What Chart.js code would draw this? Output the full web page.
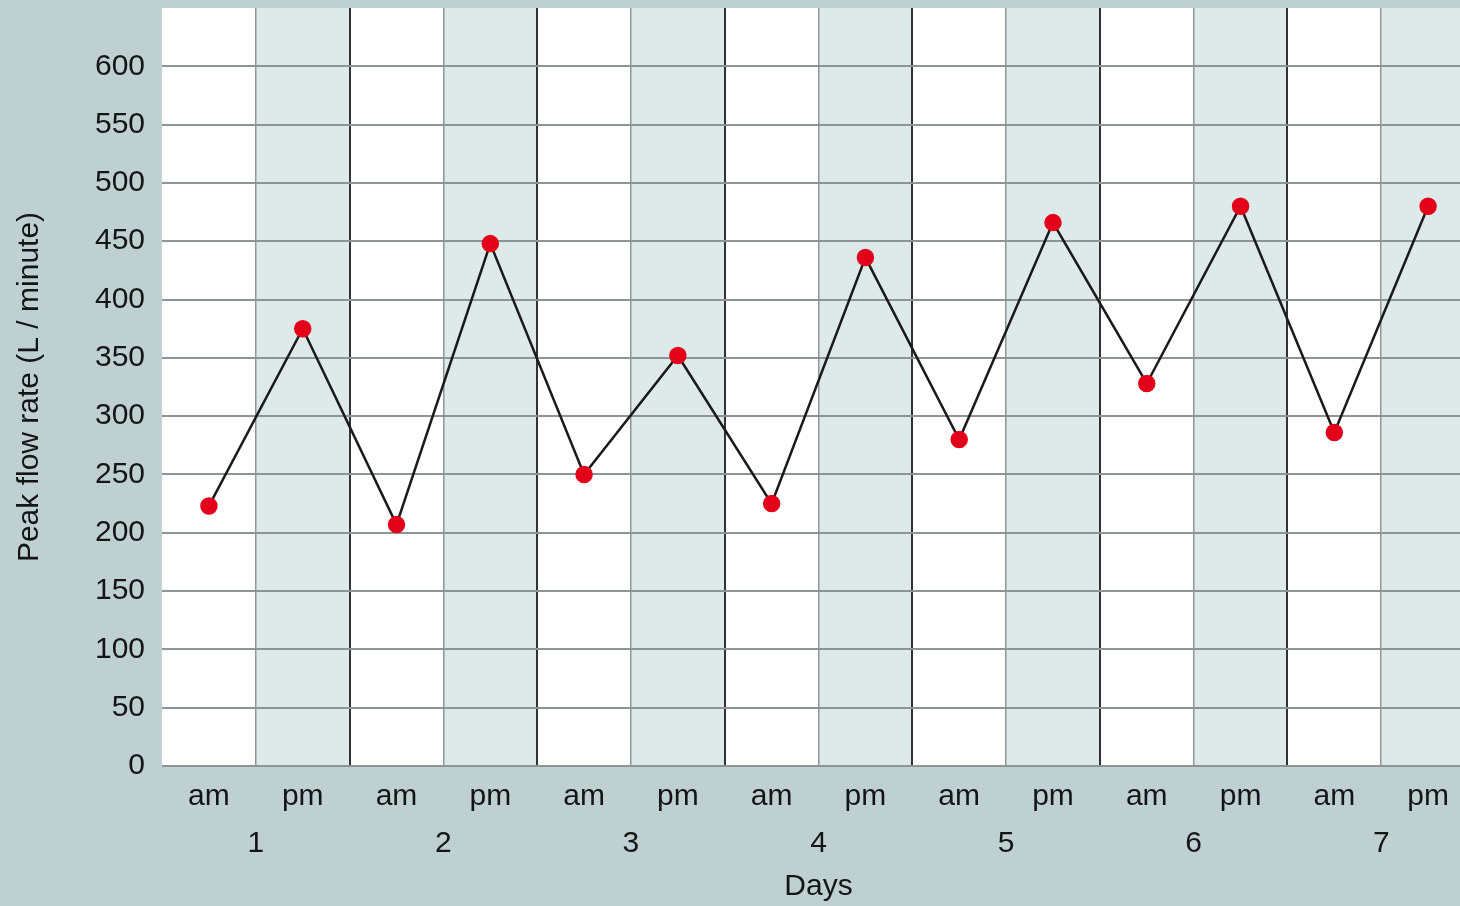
<!DOCTYPE html>
<html>
<head>
<meta charset="utf-8">
<script src="https://cdn.jsdelivr.net/npm/chart.js@4"></script>
<style>
html,body{margin:0;padding:0;overflow:hidden;background:#bfd0d3;}
#wrap{width:1485px;height:933px;margin-top:-27px;position:relative;}
</style>
</head>
<body>
<div id="wrap"><canvas id="c"></canvas></div>
<script>
const sessions = ['am','pm','am','pm','am','pm','am','pm','am','pm','am','pm','am','pm'];
const days = ['1','2','3','4','5','6','7'];
const peakFlow = [223, 375, 207, 448, 250, 352, 225, 436, 280, 466, 328, 480, 286, 480];
const yTicks = [0,50,100,150,200,250,300,350,400,450,500,550,600];

const FONT = '"Liberation Sans", Arial, sans-serif';
const TXT = '#151515';
const FS = 30;

const bgPlugin = {
  id: 'bands',
  beforeDraw(chart) {
    const ctx = chart.ctx, a = chart.chartArea, x = chart.scales.x;
    ctx.save();
    ctx.fillStyle = '#bfd0d3';
    ctx.fillRect(0, 0, chart.width, chart.height);
    ctx.fillStyle = '#ffffff';
    ctx.fillRect(a.left, a.top, a.right - a.left, a.bottom - a.top);
    const step = x.getPixelForValue(1) - x.getPixelForValue(0);
    ctx.fillStyle = '#deeaea';
    sessions.forEach((s, i) => {
      if (s === 'pm') {
        const c = x.getPixelForValue(i);
        ctx.fillRect(c - step / 2, a.top, step, a.bottom - a.top);
      }
    });
    ctx.restore();
  }
};

new Chart(document.getElementById('c'), {
  type: 'line',
  data: {
    labels: sessions,
    datasets: [{
      data: peakFlow,
      borderColor: '#1a1a1a',
      borderWidth: 2.5,
      pointBackgroundColor: '#e2001a',
      pointBorderColor: '#e2001a',
      pointRadius: 7.5,
      tension: 0
    }]
  },
  plugins: [bgPlugin],
  options: {
    responsive: true,
    maintainAspectRatio: false,
    animation: false,
    layout: { padding: { left: 12, right: 0, top: 0, bottom: 1 } },
    plugins: { legend: { display: false }, tooltip: { enabled: false } },
    scales: {
      x: {
        type: 'category',
        offset: true,
        grid: {
          offset: true,
          drawTicks: false,
          color: ctx => ctx.index === 0 ? 'rgba(0,0,0,0)' : (ctx.index % 2 === 0 ? '#333333' : '#8e9696'),
          lineWidth: ctx => ctx.index % 2 === 0 ? 2 : 1.5
        },
        border: { display: false },
        ticks: { color: TXT, font: { family: FONT, size: FS }, padding: 13, maxRotation: 0, autoSkip: false }
      },
      x2: {
        type: 'category',
        labels: days,
        position: 'bottom',
        offset: true,
        grid: { display: false, drawTicks: false },
        border: { display: false },
        ticks: { color: TXT, font: { family: FONT, size: FS }, padding: -2, maxRotation: 0 },
        title: { display: true, text: 'Days', color: TXT, font: { family: FONT, size: FS }, padding: { top: 9, bottom: 0 } }
      },
      y: {
        min: 0,
        max: 650,
        afterBuildTicks: s => { s.ticks = yTicks.concat([650]).map(v => ({ value: v })); },
        grid: {
          drawTicks: false,
          color: ctx => ctx.tick && ctx.tick.value === 650 ? 'rgba(0,0,0,0)' : '#8e9393',
          lineWidth: 2
        },
        border: { display: false },
        ticks: {
          color: TXT, font: { family: FONT, size: FS }, padding: 17,
          callback: v => yTicks.includes(v) ? String(v) : ''
        },
        title: { display: true, text: 'Peak flow rate (L / minute)', color: TXT, font: { family: FONT, size: FS }, padding: { top: 0, bottom: 30 } }
      }
    }
  }
});
</script>
</body>
</html>
